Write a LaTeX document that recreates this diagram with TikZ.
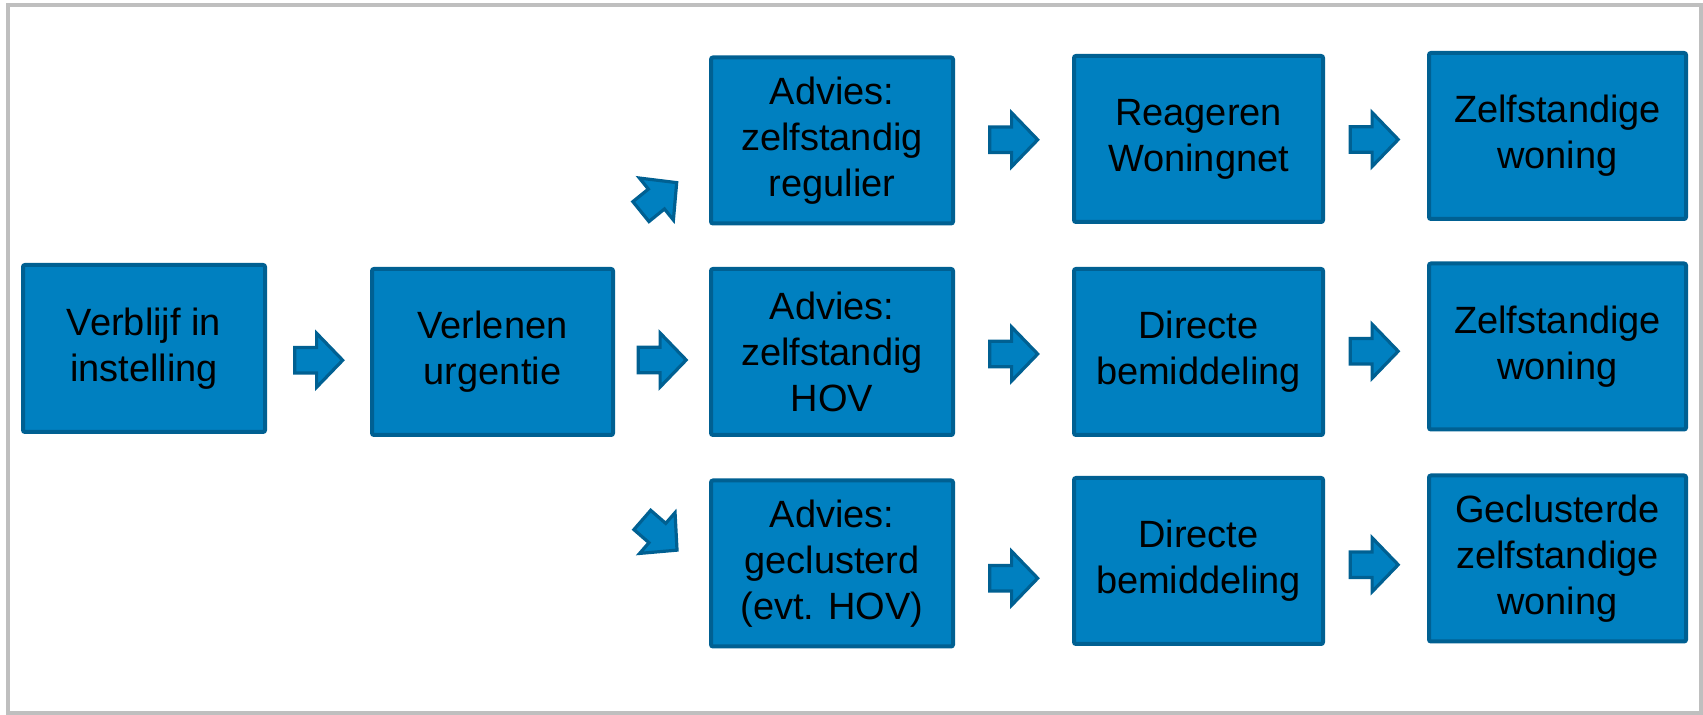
\documentclass[tikz,border=0pt]{standalone}
\usepackage{fontspec}
\setmainfont{Liberation Sans}
\usepackage{tikz}
\usepackage{xcolor}
\usetikzlibrary{arrows.meta, positioning, shapes.arrows, calc}

\definecolor{boxblue}{RGB}{0,128,192}
\definecolor{boxedge}{RGB}{0,96,146}
\definecolor{framegray}{RGB}{191,191,191}

\begin{document}
\begin{tikzpicture}[x=0.5pt, y=-0.5pt,
    stepbox/.style={draw=boxedge, fill=boxblue, line width=2pt, rounded corners=1pt,
        align=center, inner sep=0pt, minimum height=83pt,
        font=\fontsize{19}{23}\selectfont},
    blockarrow/.style={single arrow, draw=boxedge, fill=boxblue, line width=1.6pt,
        inner xsep=0pt, inner ysep=5.5pt, minimum width=27pt, minimum height=24pt,
        single arrow head extend=7pt, single arrow tip angle=92}]
    % Page and frame
    \useasboundingbox (0,0) rectangle (1703,715);
    \draw[framegray, line width=2pt] (8,5) rectangle (1701,713);

    % First two steps
    \node[stepbox, minimum width=121pt, minimum height=83.5pt] (verblijf) at (144,348.5) {Verblijf in\\instelling};
    \node[stepbox, minimum width=120.5pt] (urgentie) at (492.5,352) {Verlenen\\urgentie};

    % Advice column
    \node[stepbox, minimum width=121pt] (regulier) at (832,140.5) {Advies:\\zelfstandig\\regulier};
    \node[stepbox, minimum width=121pt] (hov) at (832,352) {Advies:\\zelfstandig\\HOV};
    \node[stepbox, minimum width=121pt] (geclusterd) at (832,563.5) {Advies:\\geclusterd\\(evt. HOV)};

    % Mediation column
    \node[stepbox, minimum width=124.5pt] (woningnet) at (1198.5,139) {Reageren\\Woningnet};
    \node[stepbox, minimum width=124.5pt] (directA) at (1198.5,352) {Directe\\bemiddeling};
    \node[stepbox, minimum width=124.5pt] (directB) at (1198.5,561) {Directe\\bemiddeling};

    % Housing column
    \node[stepbox, minimum width=128.5pt] (woningA) at (1557.5,136) {Zelfstandige\\woning};
    \node[stepbox, minimum width=128.5pt] (woningB) at (1557.5,346.5) {Zelfstandige\\woning};
    \node[stepbox, minimum width=128.5pt] (woningC) at (1557.5,558.5) {Geclusterde\\zelfstandige\\woning};

    % Block arrows between the steps
    \node[blockarrow, xshift=-3pt, yshift=-5pt] (p1) at ($(verblijf.east)!0.5!(urgentie.west)$) {};
    \node[blockarrow, xshift=-3pt, yshift=-4pt] (p2) at ($(urgentie.east)!0.5!(hov.west)$) {};
    \node[blockarrow, rotate=39, minimum height=23pt] (p3) at (654,201) {};
    \node[blockarrow, rotate=-41, minimum height=23pt] (p4) at (655,531) {};
    \node[blockarrow, xshift=-3pt] (q1) at ($(regulier.east)!0.5!(woningnet.west)$) {};
    \node[blockarrow, xshift=-3pt, yshift=-1pt] (q2) at ($(hov.east)!0.5!(directA.west)$) {};
    \node[blockarrow, xshift=-3pt, yshift=-8pt] (q3) at ($(geclusterd.east)!0.5!(directB.west)$) {};
    \node[blockarrow, xshift=-4pt, yshift=-1pt] (r1) at ($(woningnet.east)!0.5!(woningA.west)$) {};
    \node[blockarrow, xshift=-4pt, yshift=-1pt] (r2) at ($(directA.east)!0.5!(woningB.west)$) {};
    \node[blockarrow, xshift=-4pt, yshift=-2.5pt] (r3) at ($(directB.east)!0.5!(woningC.west)$) {};
\end{tikzpicture}
\end{document}
